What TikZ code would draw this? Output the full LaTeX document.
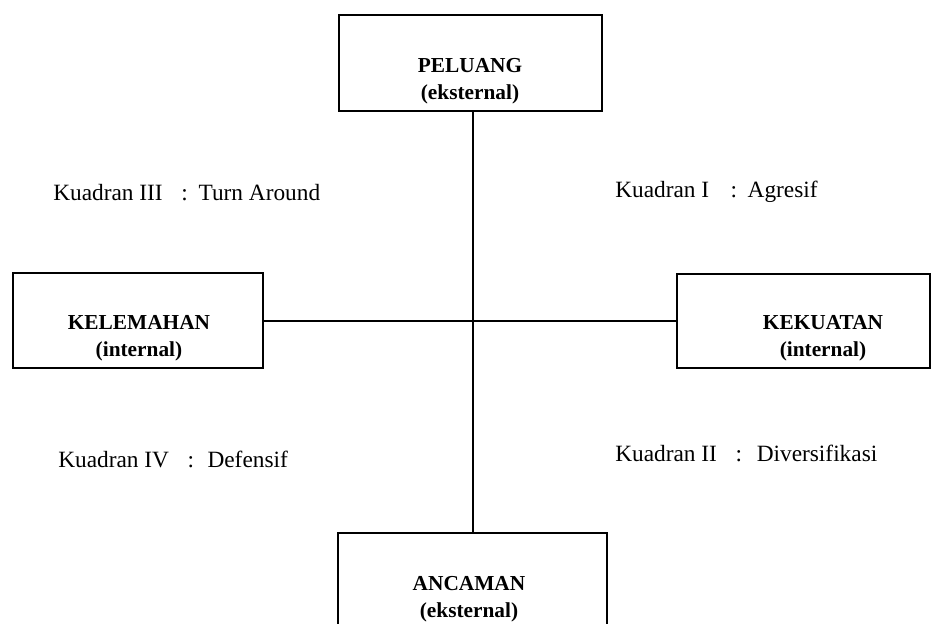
\documentclass[tikz,border=0pt]{standalone}
\usepackage{fontspec}
\setmainfont{Liberation Serif}

\tikzset{
  kotak/.style={draw, line width=1.5pt, inner sep=0pt, outer sep=0pt},
  judul/.style={font=\bfseries\fontsize{16}{20}\selectfont, align=center, inner sep=0pt},
  kuadran/.style={anchor=west, inner sep=0pt, font=\fontsize{17.5}{21}\selectfont}
}

\begin{document}
\begin{tikzpicture}[x=0.75pt,y=0.75pt,yscale=-1,xscale=1]
\useasboundingbox (0,0) rectangle (931,624);
\clip (0,0) rectangle (931,624);

%Boxes
\node [kotak, minimum width=197.25pt, minimum height=72pt] (peluang) at (470.5,63) {};
\node [kotak, minimum width=187.5pt, minimum height=71.25pt] (kelemahan) at (138,320.5) {};
\node [kotak, minimum width=189.75pt, minimum height=70.5pt] (kekuatan) at (803.5,320.5) {};
\node [kotak, minimum width=201.75pt, minimum height=72pt] (ancaman) at (472.5,581) {};

%Axes
\draw [line width=1.5pt] (peluang.south -| ancaman.north) -- (ancaman.north) ;
\draw [line width=1.5pt] (kelemahan.east) -- (kelemahan.east -| kekuatan.west) ;

% Text Node
\node [judul] (peluangtxt) at (470,81) {PELUANG\\(eksternal)};
% Text Node
\node [judul] (kelemahantxt) at (139,338) {KELEMAHAN\\(internal)};
% Text Node
\node [judul] (kekuatantxt) at (823,338) {KEKUATAN\\(internal)};
% Text Node
\node [judul] (ancamantxt) at (469,599) {ANCAMAN\\(eksternal)};

% Text Node
\node [kuadran] (kuadran3) at (53,193) {Kuadran III\hspace{14pt}:\hspace{8pt}Turn Around};
% Text Node
\node [kuadran] (kuadran1) at (615,192) {Kuadran I\hspace{16pt}:\hspace{8pt}Agresif};
% Text Node
\node [kuadran] (kuadran4) at (58,459) {Kuadran IV\hspace{14pt}:\hspace{10pt}Defensif};
% Text Node
\node [kuadran] (kuadran2) at (615,453) {Kuadran II\hspace{14pt}:\hspace{11pt}Diversifikasi};

\end{tikzpicture}
\end{document}
